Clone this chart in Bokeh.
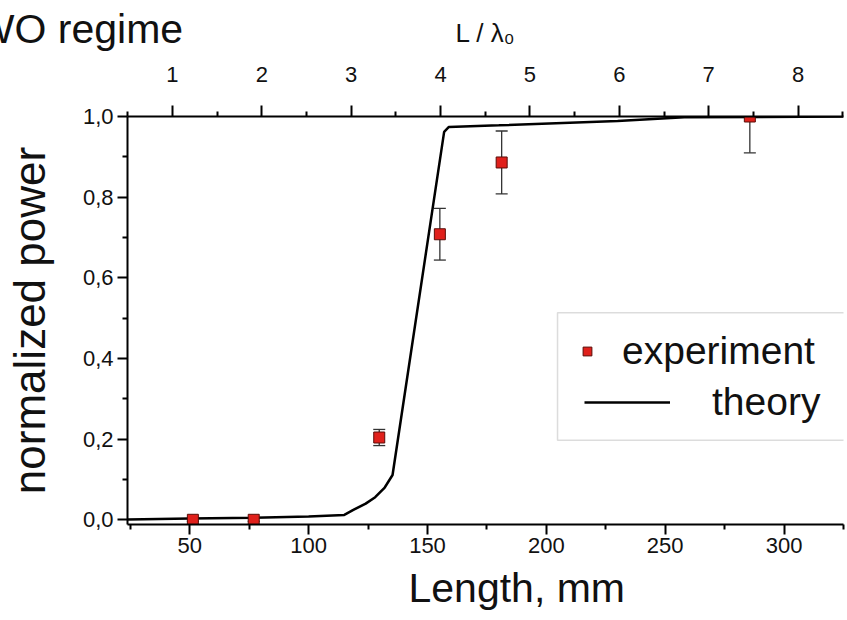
from bokeh.plotting import figure
from bokeh.models import (Range1d, LinearAxis, FixedTicker, ColumnDataSource, Whisker, TeeHead,
                          Legend, LegendItem, BoxAnnotation, Title)
from bokeh.embed import file_html
from bokeh.resources import INLINE

# ---------------- data ----------------
exp_length = [51.3, 76.9, 129.7, 155.2, 181.2, 285.6]
exp_power = [0.0, 0.0, 0.204, 0.708, 0.886, 1.0]
exp_error = [0.004, 0.004, 0.02, 0.064, 0.078, 0.09]

theory_length = [23.8, 50, 77, 100, 115, 119, 124, 128, 132, 135.3, 157.0, 159.0, 180, 230, 258, 325]
theory_power = [0.001, 0.003, 0.005, 0.008, 0.012, 0.025, 0.04, 0.056, 0.08, 0.111,
                0.962, 0.974, 0.978, 0.989, 0.998, 1.0]

x_ticks = [50, 100, 150, 200, 250, 300]
x_tick_labels = ["50", "100", "150", "200", "250", "300"]
y_ticks = [0.0, 0.2, 0.4, 0.6, 0.8, 1.0]
y_tick_labels = ["0,0", "0,2", "0,4", "0,6", "0,8", "1,0"]
top_ticks = [1, 2, 3, 4, 5, 6, 7, 8]
top_tick_labels = ["1", "2", "3", "4", "5", "6", "7", "8"]
wavelength_mm = 37.6
top_offset_mm = 5.1

# ---------------- figure ----------------
FONT = "Liberation Sans"
x0, x1 = 23.8, 325.0
y0, y1 = -0.0117, 1.0

p = figure(width=847, height=620,
           x_range=Range1d(x0, x1), y_range=Range1d(y0, y1),
           output_backend="svg", toolbar_location=None,
           x_axis_location=None, y_axis_location=None,
           min_border_left=127, min_border_top=116, min_border_right=4, min_border_bottom=96)
p.grid.visible = False
p.outline_line_color = None
p.background_fill_color = "white"
p.border_fill_color = "white"


def style_axis(ax):
    ax.axis_line_width = 2
    ax.axis_line_color = "black"
    ax.major_tick_line_width = 2
    ax.minor_tick_line_width = 2
    ax.major_tick_line_color = "black"
    ax.minor_tick_line_color = "black"
    ax.major_tick_in = 0
    ax.major_tick_out = 10
    ax.minor_tick_in = 0
    ax.minor_tick_out = 5
    ax.major_label_text_font = FONT
    ax.major_label_text_font_size = "22px"
    ax.major_label_text_color = "#111111"
    ax.axis_label_text_font = FONT
    ax.axis_label_text_font_style = "normal"
    ax.axis_label_text_color = "#111111"


x_minor = [t - 25 for t in x_ticks] + [x_ticks[-1] + 25]
bottom = LinearAxis(ticker=FixedTicker(ticks=x_ticks, minor_ticks=x_minor),
                    major_label_overrides=dict(zip(x_ticks, x_tick_labels)))
style_axis(bottom)
bottom.major_label_standoff = 3
p.add_layout(bottom, "below")
p.add_layout(Title(text="Length, mm", align="left", offset=281, standoff=15,
                   vertical_align="bottom", text_font=FONT, text_font_size="41px",
                   text_font_style="normal", text_color="#111111"), "below")

y_minor = [round(t + 0.1, 2) for t in y_ticks[:-1]]
left = LinearAxis(ticker=FixedTicker(ticks=y_ticks, minor_ticks=y_minor),
                  major_label_overrides=dict(zip(y_ticks, y_tick_labels)),
                  axis_label="normalized power")
style_axis(left)
left.major_label_standoff = 4
left.axis_label_text_font_size = "44px"
left.axis_label_standoff = 26
p.add_layout(left, "left")

p.extra_x_ranges = {"lam": Range1d((x0 - top_offset_mm) / wavelength_mm,
                                   (x1 - top_offset_mm) / wavelength_mm)}
top_minor = [t - 0.5 for t in top_ticks] + [top_ticks[-1] + 0.5]
top = LinearAxis(x_range_name="lam",
                 ticker=FixedTicker(ticks=top_ticks, minor_ticks=top_minor),
                 major_label_overrides=dict(zip(top_ticks, top_tick_labels)),
                 axis_label="L / λ₀")
style_axis(top)
top.major_tick_out = 11
top.major_label_standoff = 24
top.axis_label_text_font_size = "26px"
top.axis_label_standoff = 16
p.add_layout(top, "above")

p.add_layout(Title(text="BWO regime", align="left", offset=-179, standoff=-74,
                   vertical_align="bottom", text_font=FONT, text_font_size="41px",
                   text_font_style="normal", text_color="#111111"), "above")

# ---------------- data renderers ----------------
src = ColumnDataSource(dict(
    x=exp_length, y=exp_power,
    upper=[v + e for v, e in zip(exp_power, exp_error)],
    lower=[v - e for v, e in zip(exp_power, exp_error)],
))

r_theory = p.line(theory_length, theory_power, line_color="black", line_width=2.5)

wh = Whisker(source=src, base="x", upper="upper", lower="lower",
             line_color="#333333", line_width=1.3, level="underlay",
             upper_head=TeeHead(size=12, line_color="#333333", line_width=1.3),
             lower_head=TeeHead(size=12, line_color="#333333", line_width=1.3))
p.add_layout(wh)

r_exp = p.scatter("x", "y", source=src, marker="square", size=11,
                  fill_color="#e0201b", line_color="#5a0d08", line_width=1)

# ---------------- legend ----------------
box = BoxAnnotation(left=204.7, right=340, bottom=0.1974, top=0.5133,
                    fill_color="white", fill_alpha=1.0,
                    line_color="#8a8a8a", line_width=1.5, level="annotation")
p.add_layout(box)

leg_exp = Legend(items=[LegendItem(label="experiment", renderers=[r_exp])],
                 location=(449, 151), glyph_width=22, glyph_height=22,
                 label_standoff=24, padding=0, margin=0, spacing=0,
                 border_line_color=None, background_fill_alpha=0,
                 label_text_font=FONT, label_text_font_size="39px",
                 label_text_color="#111111")
leg_th = Legend(items=[LegendItem(label="theory", renderers=[r_theory])],
                location=(457, 100), glyph_width=86, glyph_height=22,
                label_standoff=42, padding=0, margin=0, spacing=0,
                border_line_color=None, background_fill_alpha=0,
                label_text_font=FONT, label_text_font_size="39px",
                label_text_color="#111111")
p.add_layout(leg_exp)
p.add_layout(leg_th)

open("out.html", "w").write(file_html(p, INLINE))
